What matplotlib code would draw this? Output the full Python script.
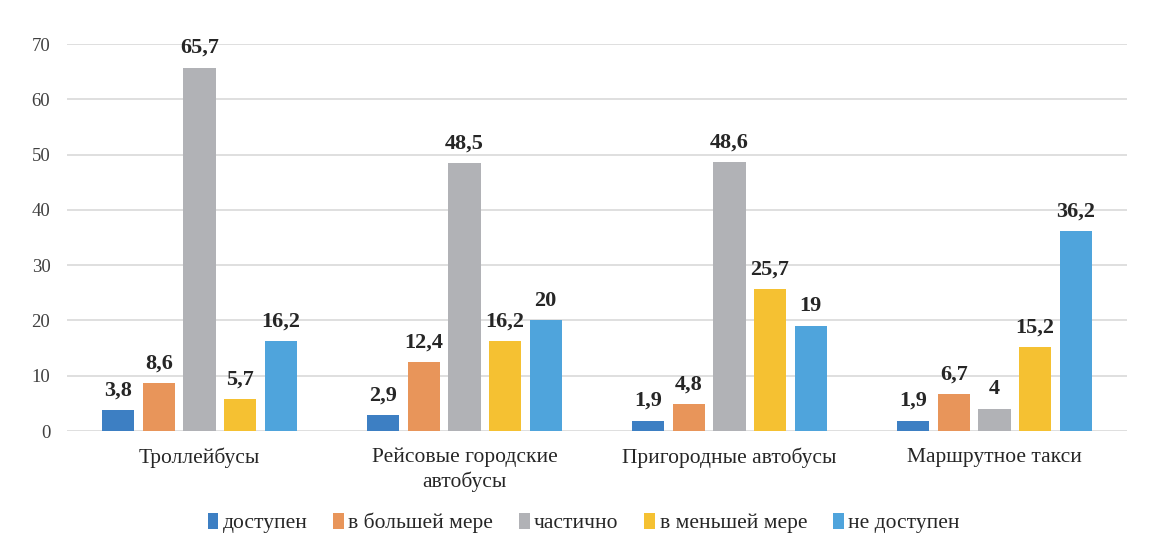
import matplotlib
matplotlib.use("Agg")
import matplotlib.pyplot as plt
import numpy as np

categories = ["Троллейбусы", "Рейсовые городские\nавтобусы", "Пригородные автобусы", "Маршрутное такси"]
series_names = ["доступен", "в большей мере", "частично", "в меньшей мере", "не доступен"]
dostupen = [3.8, 2.9, 1.9, 1.9]
v_bolshey = [8.6, 12.4, 4.8, 6.7]
chastichno = [65.7, 48.5, 48.6, 4]
v_menshey = [5.7, 16.2, 25.7, 15.2]
ne_dostupen = [16.2, 20, 19, 36.2]
labels = [["3,8", "2,9", "1,9", "1,9"],
          ["8,6", "12,4", "4,8", "6,7"],
          ["65,7", "48,5", "48,6", "4"],
          ["5,7", "16,2", "25,7", "15,2"],
          ["16,2", "20", "19", "36,2"]]
colors = ["#3d7fc3", "#e8955a", "#b1b2b6", "#f5c132", "#4fa4dc"]
yticks = [0, 10, 20, 30, 40, 50, 60, 70]

plt.rcParams['font.family'] = ['Liberation Serif', 'DejaVu Serif']

fig = plt.figure(figsize=(11.67, 5.46), dpi=100)
ax = fig.add_axes([0.0574, 0.2106, 0.9083, 0.7088])

data = [dostupen, v_bolshey, chastichno, v_menshey, ne_dostupen]
x = np.arange(len(categories))
step = 0.153
width = 0.121
for i, (vals, name, c) in enumerate(zip(data, series_names, colors)):
    pos = x + (i - 2) * step
    bars = ax.bar(pos, vals, width, color=c, label=name, zorder=3)
    for b, lab in zip(bars, labels[i]):
        ax.annotate(lab, (b.get_x() + b.get_width() / 2, b.get_height()),
                    xytext=(0, 7), textcoords="offset points",
                    ha="center", va="bottom", fontsize=16, fontweight="bold",
                    color="#262626")

ax.set_xlim(-0.5, len(categories) - 0.5)
ax.set_ylim(0, 70)
ax.set_yticks(yticks)
ax.set_yticklabels([str(t) for t in yticks], fontsize=13.5, color="#404040")
ax.set_xticks(x)
ax.set_xticklabels(categories, fontsize=15.5, color="#262626", linespacing=1.3, va="top")
ax.tick_params(axis="both", length=0)
ax.tick_params(axis="y", pad=12)
ax.tick_params(axis="x", pad=12)
ax.grid(axis="y", color="#d9d9d9", linewidth=1.2, zorder=0)
for s in ax.spines.values():
    s.set_visible(False)

fig.legend(loc="center", bbox_to_anchor=(0.5, 0.042), ncol=5, frameon=False,
           fontsize=15.5, handlelength=0.5, handleheight=0.75, handletextpad=0.2,
           columnspacing=1.2, labelcolor="#262626")

fig.savefig("out.png", dpi=100)
